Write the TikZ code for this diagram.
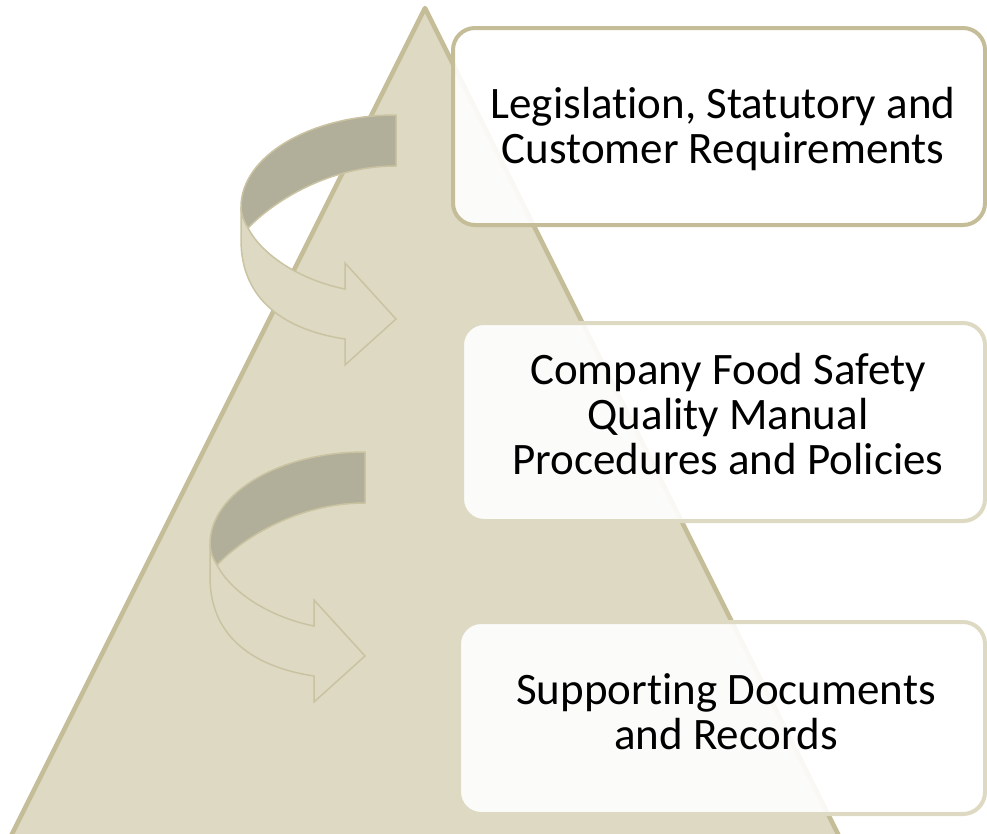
\documentclass[tikz,border=0pt]{standalone}
\usepackage{fontspec}
\setmainfont{Carlito}[Ligatures={NoCommon}]
\definecolor{trifill}{HTML}{DDD9C3}
\definecolor{triline}{HTML}{C4BD97}
\definecolor{darkband}{HTML}{B1AE9A}
\definecolor{arrowline}{HTML}{CAC3A2}
\definecolor{lightborder}{HTML}{DDD9C3}
\begin{document}
\begin{tikzpicture}[x=1pt,y=-1pt,
  tri/.style={fill=trifill,draw=triline,line width=4.5pt,line join=round},
  backband/.style={fill=darkband,draw=arrowline,line width=1.5pt,line join=round},
  frontband/.style={fill=trifill,draw=arrowline,line width=1.5pt,line join=miter},
  boxbase/.style={rounded corners=22pt,fill=white,fill opacity=0.9,line width=4pt,inner sep=0pt},
  boxdark/.style={boxbase,draw=triline},
  boxlight/.style={boxbase,draw=lightborder},
  lbl/.style={font=\fontsize{45}{45}\selectfont,align=center,text=black,inner sep=0pt}
]
\useasboundingbox (0,0) rectangle (987,833);
\clip (0,0) rectangle (987,833);

% pyramid
\draw[tri] (425,8) -- (-21,900) -- (871,900) -- cycle;

% curved arrows
\foreach \dx/\dy in {0/0,-31/337}{
\begin{scope}[shift={(\dx,\dy)}]
\draw[backband] (396,115) .. controls (310.4,115) and (241,156.2) .. (241,207)
   .. controls (241,215) and (244,222) .. (248,228)
   .. controls (275,200) and (330,166) .. (396,166) -- cycle;
\draw[frontband] (241,207) -- (241,240) .. controls (241,300) and (285,330) .. (345,339)
   -- (345,365) -- (396,319) -- (345,263) -- (345,289)
   .. controls (300,280) and (262,255) .. (248,228)
   .. controls (244,222) and (241,215) .. (241,207) -- cycle;
\end{scope}
}

% boxes
\node[boxdark,minimum width=532pt,minimum height=197pt] (b1) at (719,126.5) {};
\node[boxlight,minimum width=523pt,minimum height=198pt] (b2) at (723.5,422) {};
\node[boxlight,minimum width=526pt,minimum height=192pt] (b3) at (722,718) {};

% texts
\node[lbl] (t1) at (723,129) {Legislation, Statutory and\\Customer Requirements};
\node[lbl] (t2) at (728,414) {Company Food Safety\\Quality Manual\\Procedures and Policies};
\node[lbl] (t3) at (726,712) {Supporting Documents\\and Records};
\end{tikzpicture}
\end{document}
